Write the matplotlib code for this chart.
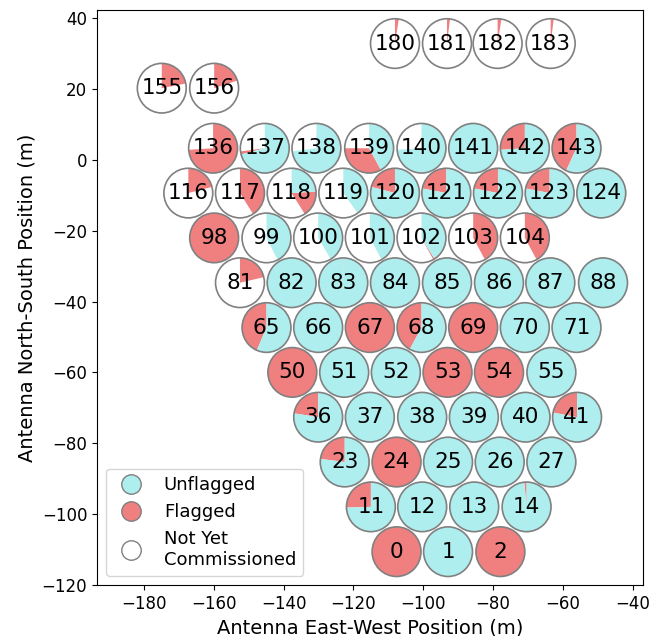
import matplotlib
matplotlib.use("Agg")
import matplotlib.pyplot as plt
from matplotlib.lines import Line2D
from matplotlib.patches import Circle

# Antenna numbers and positions (m)
antennas = [0, 1, 2,
            11, 12, 13, 14,
            23, 24, 25, 26, 27,
            36, 37, 38, 39, 40, 41,
            50, 51, 52, 53, 54, 55,
            65, 66, 67, 68, 69, 70, 71,
            81, 82, 83, 84, 85, 86, 87, 88,
            98, 99, 100, 101, 102, 103, 104,
            116, 117, 118, 119, 120, 121, 122, 123, 124,
            136, 137, 138, 139, 140, 141, 142, 143,
            155, 156,
            180, 181, 182, 183]

east = [-107.65, -92.9, -77.9,
        -115.0, -100.3, -85.4, -70.4,
        -122.5, -107.65, -92.9, -78.1, -63.3,
        -130.1, -115.3, -100.3, -85.5, -70.7, -55.95,
        -137.5, -122.65, -107.85, -93.05, -78.3, -63.3,
        -144.9, -130.1, -115.3, -100.5, -85.7, -70.9, -56.1,
        -152.5, -137.7, -122.9, -108.1, -93.2, -78.3, -63.6, -48.5,
        -159.9, -144.9, -130.1, -115.3, -100.5, -85.7, -70.9,
        -167.3, -152.5, -137.7, -122.9, -108.1, -93.4, -78.6, -63.8, -49.0,
        -160.2, -145.4, -130.6, -115.5, -100.5, -85.7, -70.9, -56.1,
        -174.9, -159.9,
        -108.1, -93.2, -78.7, -63.5]

north = [-110.6, -110.6, -110.6,
         -97.95, -97.95, -97.95, -97.95,
         -85.3, -85.3, -85.3, -85.3, -85.3,
         -72.65, -72.65, -72.65, -72.65, -72.65, -72.65,
         -60.0, -60.0, -60.0, -60.0, -60.0, -60.0,
         -47.35, -47.35, -47.35, -47.35, -47.35, -47.35, -47.35,
         -34.7, -34.7, -34.7, -34.7, -34.7, -34.7, -34.7, -34.7,
         -22.05, -22.05, -22.05, -22.05, -22.05, -22.05, -22.05,
         -9.4, -9.4, -9.4, -9.4, -9.4, -9.4, -9.4, -9.4, -9.4,
         3.25, 3.25, 3.25, 3.25, 3.25, 3.25, 3.25, 3.25,
         20.2, 20.2,
         32.8, 32.8, 32.8, 32.8]

# Fraction of time not yet commissioned / flagged (rest is unflagged)
frac_not_commissioned = [0, 0, 0,
                         0, 0, 0, 0,
                         0, 0, 0, 0, 0,
                         0, 0, 0, 0, 0, 0,
                         0, 0, 0, 0, 0, 0,
                         0, 0, 0, 0, 0, 0, 0,
                         0.786, 0, 0, 0, 0, 0, 0, 0,
                         0, 0.575, 0.586, 0.58, 0.58, 0.58, 0.58,
                         0.79, 0.59, 0.59, 0.60, 0, 0, 0, 0, 0,
                         0.26, 0.27, 0.27, 0.25, 0.26, 0, 0, 0,
                         0.78, 0.80,
                         0.975, 0.98, 0.975, 0.98]

frac_flagged = [1, 0, 1,
                0.255, 0, 0, 0.015,
                0.23, 1, 0, 0, 0,
                0.225, 0, 0, 0, 0, 0.22,
                1, 0, 0, 1, 1, 0,
                0.435, 0, 1, 0.42, 1, 0, 0,
                0.214, 0, 0.005, 0, 0, 0, 0, 0,
                1, 0, 0, 0, 0.01, 0.42, 0.42,
                0.21, 0.41, 0.17, 0, 0.21, 0.22, 0.22, 0.22, 0,
                0.74, 0.02, 0, 0.33, 0, 0, 0.26, 0.43,
                0.22, 0.20,
                0.025, 0.02, 0.025, 0.02]

col_unflagged = "paleturquoise"
col_flagged = "lightcoral"
col_nc = "white"
edge = "gray"
radius = 7.0

fig = plt.figure(figsize=(6.6, 6.36), dpi=100)
ax = fig.add_axes([0.147, 0.0802, 0.827, 0.904])

for ant, x, y, fn, ff in zip(antennas, east, north, frac_not_commissioned, frac_flagged):
    fu = max(0.0, 1.0 - fn - ff)
    vals = [fn, ff, fu]
    cols = [col_nc, col_flagged, col_unflagged]
    v2 = [v for v in vals if v > 0]
    c2 = [c for v, c in zip(vals, cols) if v > 0]
    ax.pie(v2, colors=c2, center=(x, y), radius=radius, startangle=90,
           counterclock=True, frame=True,
           wedgeprops=dict(linewidth=0, edgecolor="none"))
    ax.add_patch(Circle((x, y), radius, facecolor="none", edgecolor=edge,
                        linewidth=1.2, zorder=3))
    ax.text(x, y, str(ant), ha="center", va="center", fontsize=15.5, zorder=4)

ax.set_aspect("auto")
ax.set_xlim(-193.45, -37.1)
ax.set_ylim(-120, 42.25)
ax.set_xticks([-180, -160, -140, -120, -100, -80, -60, -40])
ax.set_yticks([-120, -100, -80, -60, -40, -20, 0, 20, 40])
ax.tick_params(labelsize=12)
ax.set_xlabel("Antenna East-West Position (m)", fontsize=14)
ax.set_ylabel("Antenna North-South Position (m)", fontsize=14)

handles = [
    Line2D([], [], marker="o", linestyle="none", markersize=14,
           markerfacecolor=col_unflagged, markeredgecolor=edge),
    Line2D([], [], marker="o", linestyle="none", markersize=14,
           markerfacecolor=col_flagged, markeredgecolor=edge),
    Line2D([], [], marker="o", linestyle="none", markersize=14,
           markerfacecolor=col_nc, markeredgecolor=edge),
]
ax.legend(handles, ["Unflagged", "Flagged", "Not Yet\nCommissioned"],
          loc="lower left", fontsize=13)

fig.savefig("out.png", dpi=100)
